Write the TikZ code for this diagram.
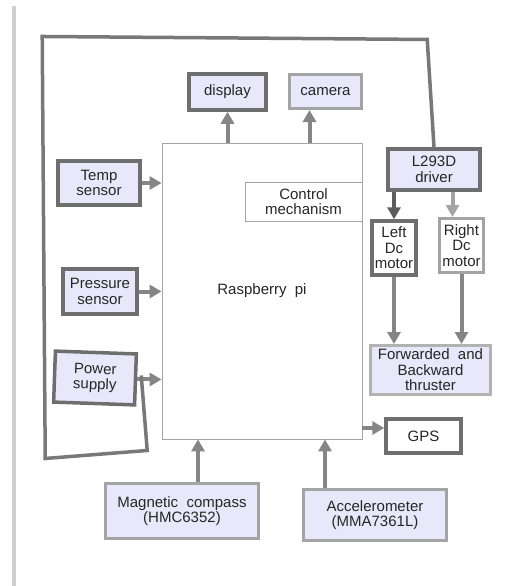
\documentclass[tikz,border=0pt]{standalone}
\usepackage{fontspec}
\setmainfont{Liberation Sans}
\usepackage{tikz}
\usetikzlibrary{positioning, arrows.meta}
\usepackage{xcolor}
\definecolor{boxFill}{HTML}{E8E8FA}
\definecolor{darkEdge}{HTML}{6E6E6E}
\definecolor{lightEdge}{HTML}{A4A4A4}
\definecolor{arrowGray}{HTML}{858585}
\definecolor{barGray}{HTML}{CFCFCF}
\newcommand{\boxFont}{\fontsize{15}{15.5}\selectfont}
\tikzstyle{unitBox}=[draw=darkEdge, line width=3.5pt, fill=boxFill, align=center, inner sep=1pt, font=\boxFont, text=black!85]
\tikzstyle{lightBox}=[unitBox, draw=lightEdge, line width=3pt]
\tikzstyle{plainBox}=[unitBox, fill=white]
\tikzstyle{thinBox}=[draw=lightEdge, line width=0.8pt, fill=white, align=center, inner sep=1pt, font=\boxFont, text=black!85]
\tikzstyle{flowArrow}=[-{Triangle[length=12pt,width=13pt]}, line width=4pt, draw=arrowGray]
\tikzstyle{loopLine}=[line width=3.5pt, draw=arrowGray!90!black, line join=miter]

\begin{document}
\begin{tikzpicture}[x=1pt, y=-1pt]

    \useasboundingbox (0,0) rectangle (505,586);
    \fill[barGray] (12,6) rectangle (16,586);

    \node[thinBox, minimum width=200pt, minimum height=296pt] (raspberryPi) at (262,291) {Raspberry\ \ pi};
    \node[thinBox, minimum width=117pt, minimum height=39pt] (controlMech) at (303.5,201.5) {Control\\mechanism};

    \node[unitBox, minimum width=77pt, minimum height=36pt] (display) at (227.5,92) {display};
    \node[lightBox, minimum width=72pt, minimum height=34pt] (camera) at (325.5,91.5) {camera};

    \node[unitBox, minimum width=82pt, minimum height=44pt] (tempSensor) at (99,183) {Temp\\sensor};
    \node[unitBox, minimum width=74pt, minimum height=45pt] (pressureSensor) at (100,291.5) {Pressure\\sensor};
    \node[unitBox, minimum width=81pt, minimum height=51pt, rotate=-2] (powerSupply) at (95,378) {Power\\supply};

    \node[unitBox, minimum width=92pt, minimum height=41pt] (l293d) at (434,169.5) {L293D\\driver};
    \node[plainBox, minimum width=44pt, minimum height=54pt, inner sep=0pt] (leftMotor) at (394,248) {Left\\Dc\\motor};
    \node[plainBox, draw=lightEdge, line width=3pt, minimum width=44pt, minimum height=54pt, inner sep=0pt] (rightMotor) at (461.5,245.5) {Right\\Dc\\motor};
    \node[lightBox, draw=lightEdge!85, minimum width=120pt, minimum height=49pt] (thruster) at (430.5,370) {Forwarded\ \ and\\Backward\\thruster};
    \node[plainBox, minimum width=75pt, minimum height=34pt] (gps) at (423.5,436) {GPS};

    \node[lightBox, minimum width=153pt, minimum height=55pt] (compass) at (182,511) {Magnetic\ \ compass\\(HMC6352)};
    \node[lightBox, minimum width=143pt, minimum height=51pt] (accel) at (375,515) {Accelerometer\\(MMA7361L)};

    \coordinate (camIn) at ([xshift=-16pt]camera.south);
    \coordinate (rightIn) at ([xshift=-9pt]rightMotor.north);
    \coordinate (gpsIn) at ([yshift=8pt]gps.west);
    \coordinate (compassOut) at ([xshift=16pt]compass.north);
    \coordinate (accelOut) at ([xshift=-50pt]accel.north);

    \draw[flowArrow] (raspberryPi.north -| display.south) -- (display.south);
    \draw[flowArrow] (raspberryPi.north -| camIn) -- (camIn);
    \draw[flowArrow] (tempSensor.east) -- (tempSensor.east -| raspberryPi.west);
    \draw[flowArrow] (pressureSensor.east) -- (pressureSensor.east -| raspberryPi.west);
    \draw[flowArrow] (powerSupply.east) -- (powerSupply.east -| raspberryPi.west);
    \draw[flowArrow, draw=darkEdge!85!black] (l293d.south -| leftMotor.north) -- (leftMotor.north);
    \draw[flowArrow, draw=lightEdge] (l293d.south -| rightIn) -- (rightIn);
    \draw[flowArrow] (leftMotor.south) -- (leftMotor.south |- thruster.north);
    \draw[flowArrow] (rightMotor.south) -- (rightMotor.south |- thruster.north);
    \draw[flowArrow] (raspberryPi.east |- gpsIn) -- (gpsIn);
    \draw[flowArrow] (compassOut) -- (compassOut |- raspberryPi.south);
    \draw[flowArrow] (accelOut) -- (accelOut |- raspberryPi.south);

    % power loop round to the driver
    \draw[loopLine] ([xshift=4pt,yshift=4pt]powerSupply.east) -- ++(6,75) -- ++(-102,8) -- ++(-3,-422) -- ++(385,3) -- (l293d.north);

  \end{tikzpicture}
\end{document}
